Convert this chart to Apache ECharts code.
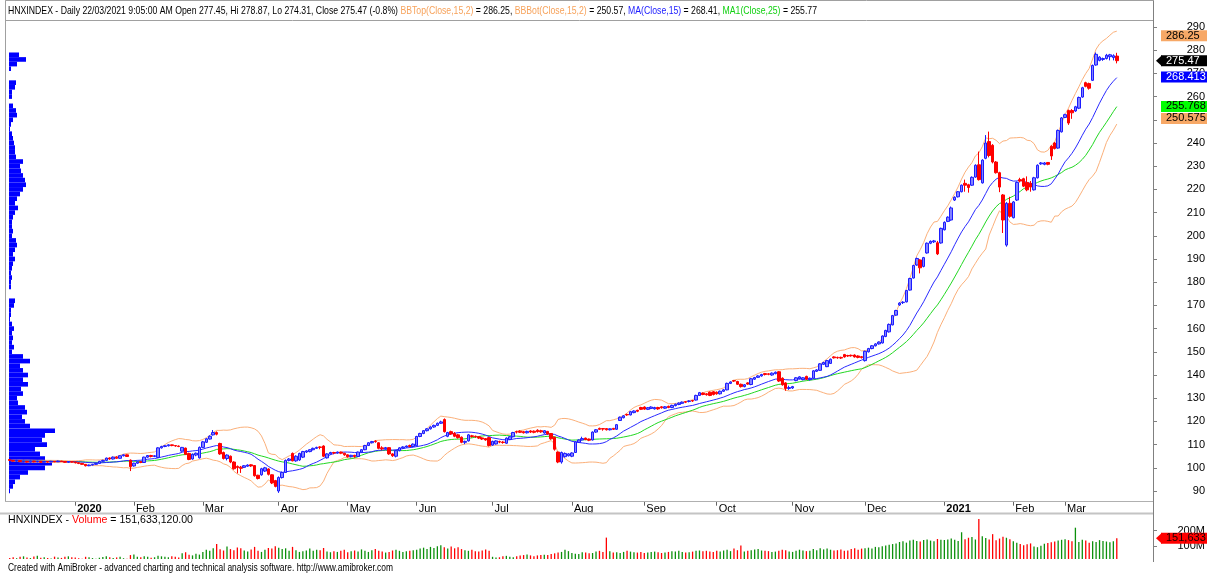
<!DOCTYPE html>
<html>
<head>
<meta charset="utf-8">
<title>HNXINDEX - Daily</title>
<script src="https://cdn.jsdelivr.net/npm/echarts@6/dist/echarts.min.js"></script>
<style>
  html, body { margin: 0; padding: 0; background: #fff; }
  #main { width: 1208px; height: 573px; }
</style>
</head>
<body>
<div id="main"></div>
<script>
// HNXINDEX daily bars. One row per month: Dec 2019 ... Mar 2021
var opens = [
  103.6,103.2,102.9,103.1,102.7,102.8,102.5,102.9,102.6,102.8,102.4,102.7,102.5,102.8,102.6,102.9,102.7,102.4,102.6,
  102.5,102.2,101.9,101.5,100.9,101.2,101.5,101.9,102.8,103.2,104.2,103.8,104.6,104.1,105.2,105.6,103.3,
  100.8,102.0,102.6,102.3,104.6,105.3,104.9,104.5,108.6,109.2,109.5,109.9,109.6,109.4,107.2,108.5,106.2,103.8,105.5,104.3,
  108.8,111.0,112.4,114.2,115.2,110.5,106.6,104.0,105.0,102.5,100.6,100.3,100.2,100.7,101.3,101.0,96.8,97.0,98.6,99.5,97.0,94.5,
  90.0,95.8,98.0,103.2,106.2,103.0,103.4,104.6,106.8,107.0,107.8,108.4,109.0,109.4,104.3,106.0,106.6,106.4,106.8,106.3,
  105.6,104.8,105.4,104.9,106.8,107.8,109.6,110.8,111.5,110.8,108.6,108.2,108.7,106.0,105.0,107.4,108.6,109.0,109.6,109.2,
  109.5,113.5,114.8,116.0,116.8,117.6,118.3,119.2,120.8,113.6,115.6,114.8,114.2,113.2,111.0,111.6,113.8,113.6,113.4,112.9,112.6,113.0,
  109.8,110.3,111.3,111.1,110.6,112.2,113.4,115.6,115.8,115.6,115.1,115.9,115.8,116.2,116.0,115.0,115.7,114.8,113.2,106.8,102.5,104.8,105.2,
  105.0,106.6,111.0,112.0,112.8,112.4,112.0,115.4,117.0,116.9,116.9,116.4,117.0,116.6,120.4,121.6,123.0,122.8,123.8,124.8,126.0,
  126.2,125.2,125.6,125.4,126.0,126.3,125.7,126.5,126.0,126.8,127.3,127.8,128.5,128.6,129.0,129.2,131.2,132.2,131.9,132.6,132.8,
  132.6,131.9,133.0,133.6,136.4,137.6,137.2,136.0,135.0,136.6,135.9,138.2,139.0,139.6,140.6,140.5,140.0,140.6,141.4,138.6,136.6,134.2,
  134.4,137.6,138.4,138.0,139.4,138.0,138.6,141.6,142.0,144.6,143.6,145.0,147.8,147.6,147.6,148.8,148.4,148.5,148.6,148.2,147.9,
  146.2,150.0,151.4,152.6,153.4,153.8,156.6,158.6,161.6,165.8,170.2,171.2,171.5,176.6,181.8,187.4,189.6,186.8,192.6,196.8,197.4,197.0,196.9,
  202.6,206.2,206.8,215.4,216.8,219.0,222.6,222.0,221.8,225.3,230.6,222.8,233.4,240.6,239.0,231.8,227.2,217.6,196.0,214.0,
  207.8,215.4,224.2,224.6,223.0,222.6,219.8,225.0,231.0,230.8,231.6,238.6,240.0,237.8,244.8,
  251.0,254.0,254.0,253.8,255.0,259.8,266.0,265.6,267.0,273.6,275.6,276.0,276.4,277.2,276.8,277.45
];
var closes = [
  103.2,102.9,103.1,102.7,102.8,102.5,102.9,102.6,102.8,102.4,102.7,102.5,102.8,102.6,102.9,102.7,102.4,102.6,102.5,
  102.2,101.9,101.5,100.9,101.2,101.5,101.9,102.8,103.2,104.2,103.8,104.6,104.1,105.2,105.6,104.9,100.5,
  102.0,102.6,102.3,104.6,105.3,104.9,105.2,108.6,109.2,109.5,109.9,109.6,109.4,109.2,108.8,105.8,103.6,105.8,106.3,108.8,
  111.2,112.5,113.6,115.2,114.5,106.0,104.0,105.5,102.5,99.6,100.1,99.8,100.9,101.2,100.8,96.6,95.4,99.6,100.0,97.2,93.5,92.0,
  95.8,98.0,103.2,103.8,103.0,105.0,106.2,107.0,107.3,107.8,108.4,108.8,108.8,105.0,106.0,106.6,106.4,106.8,106.3,105.6,
  104.8,105.4,104.9,106.8,107.8,109.6,110.8,111.3,111.3,108.4,108.2,108.7,106.0,105.2,107.4,108.6,109.0,109.4,109.2,110.2,
  113.5,114.8,116.0,116.8,117.6,118.3,119.2,119.8,115.6,115.2,114.6,113.6,113.0,111.0,111.4,114.2,113.5,113.4,112.8,112.4,112.0,109.6,
  111.4,111.6,111.1,110.9,112.8,113.4,115.2,115.4,115.3,115.1,115.7,115.4,115.3,115.6,115.5,116.0,114.6,112.5,108.0,102.5,106.6,106.2,106.0,
  106.4,111.2,112.0,112.6,112.2,111.9,115.4,116.4,116.6,116.7,116.4,116.8,116.6,118.6,121.8,122.4,122.8,124.2,124.5,124.4,125.2,
  125.3,125.9,126.2,126.0,125.4,125.9,126.3,126.0,126.9,127.4,127.9,128.3,128.3,128.8,128.8,131.2,132.4,131.6,131.5,131.2,131.6,
  131.9,133.0,133.6,136.4,137.0,137.4,136.0,135.0,135.8,136.1,138.4,138.9,139.6,140.2,140.2,140.3,140.8,141.2,137.4,135.8,134.2,134.6,
  135.0,138.8,139.2,138.8,138.2,138.6,141.8,142.2,144.8,145.4,146.2,146.8,147.4,147.4,147.3,147.8,148.2,148.3,147.8,147.6,147.5,
  150.2,151.4,152.6,153.4,154.2,156.8,159.2,161.8,165.6,167.8,171.0,171.4,176.4,181.6,187.2,190.2,186.2,190.6,196.8,197.6,197.8,192.2,203.2,
  205.8,208.0,212.0,216.6,219.0,221.8,221.8,220.8,225.2,230.4,224.2,232.6,240.0,234.6,231.8,227.2,221.0,206.8,214.0,208.4,
  214.6,223.0,223.6,221.4,219.8,221.0,225.0,230.4,231.4,231.4,230.8,234.4,237.6,245.4,250.8,
  252.2,248.6,253.0,255.6,259.6,263.8,264.4,263.6,273.4,278.2,277.0,276.4,277.8,278.0,277.6,275.47
];
var lows = [
  103.0,102.7,102.7,102.5,102.5,102.3,102.4,102.4,102.5,102.2,102.3,102.3,102.4,102.4,102.5,102.5,102.2,102.2,102.3,
  101.9,101.6,101.3,100.6,100.7,101.0,101.3,101.8,102.6,102.9,103.5,103.6,103.9,104.0,104.9,104.7,98.6,
  100.5,101.7,102.0,102.2,104.3,104.5,104.6,104.3,108.3,108.9,109.2,109.3,109.1,108.9,107.0,105.5,103.3,103.5,105.0,104.0,
  108.5,110.7,112.2,113.9,114.0,105.6,103.6,103.2,102.0,99.2,97.6,97.8,99.9,100.4,100.4,96.2,95.0,96.6,98.2,96.7,93.0,91.6,
  89.2,95.4,97.8,102.8,102.8,102.6,103.0,104.2,106.4,106.7,107.5,108.1,108.0,104.6,104.0,105.7,105.8,106.1,105.9,105.2,
  104.4,104.5,104.3,104.7,106.5,107.6,109.4,110.5,110.8,108.0,107.6,107.9,105.6,104.7,104.5,107.1,108.3,108.7,108.8,108.9,
  109.2,113.2,114.5,115.7,116.5,117.3,118.0,118.9,115.2,113.2,114.2,113.2,112.6,110.6,110.2,111.3,113.0,112.9,112.4,112.0,111.7,109.2,
  109.5,110.0,110.6,110.4,110.3,112.0,113.1,114.8,115.0,114.8,114.8,115.0,114.9,115.2,115.1,114.7,114.2,112.1,107.4,102.0,101.8,104.4,104.9,
  104.6,106.4,110.7,111.8,111.9,111.5,111.8,115.1,116.3,116.0,116.1,116.1,116.3,116.4,120.2,121.3,122.4,122.6,123.5,124.0,124.9,
  125.0,124.9,125.3,125.1,125.0,125.5,125.4,125.7,125.7,126.5,127.0,127.5,127.9,128.2,128.4,129.0,131.0,131.3,131.1,130.9,131.2,
  131.5,131.6,132.7,133.4,136.1,137.0,135.7,134.6,134.7,135.8,135.6,137.9,138.7,139.3,139.8,139.9,139.7,140.3,137.0,135.4,133.2,133.6,
  134.0,137.3,138.1,137.7,137.8,137.6,138.4,141.3,141.8,144.3,143.4,144.8,147.1,147.0,146.9,147.5,147.8,147.9,147.5,147.2,147.1,
  145.8,149.7,151.1,152.3,153.1,153.6,156.3,158.3,161.4,165.5,169.8,170.6,171.3,176.4,181.6,187.1,183.8,186.4,192.3,196.4,196.9,191.7,196.6,
  202.3,205.9,206.5,215.0,216.5,218.7,219.0,218.6,221.5,225.0,223.8,222.5,233.0,233.8,231.2,226.8,218.8,201.2,195.3,207.8,
  207.5,215.0,223.0,221.0,219.2,219.0,219.5,224.7,230.6,230.4,230.4,232.7,237.2,237.5,244.5,
  250.7,247.8,250.4,253.4,254.6,259.5,264.0,263.0,266.7,273.3,275.2,275.4,276.0,275.6,275.6,274.31
];
var highs = [
  103.8,103.4,103.3,103.2,103.0,102.9,103.1,103.0,103.0,102.9,102.9,102.8,103.0,102.9,103.1,103.0,102.8,102.8,102.7,
  102.7,102.4,102.0,101.6,101.4,101.7,102.1,103.0,103.5,104.4,104.5,104.9,105.0,105.4,105.8,105.8,103.6,
  102.2,102.8,102.9,104.8,105.5,105.6,105.4,108.9,109.5,109.8,110.1,110.0,109.8,109.6,109.0,108.7,106.5,106.2,106.6,109.2,
  111.6,112.8,114.0,116.3,115.7,110.8,107.0,105.8,105.3,102.8,101.0,100.8,101.2,101.5,101.6,101.2,97.0,100.0,100.4,99.8,97.2,94.8,
  96.3,98.4,103.6,104.2,106.6,105.4,106.5,107.3,107.6,108.0,108.7,109.1,109.3,109.7,106.3,106.9,106.9,107.0,107.0,106.5,
  105.8,105.6,105.6,107.0,108.0,109.9,111.0,111.6,111.9,111.0,109.3,109.0,108.9,106.3,107.7,108.9,109.3,109.6,110.0,110.5,
  113.8,115.1,116.3,117.1,117.9,118.6,119.5,120.3,121.3,115.5,116.0,115.4,114.6,113.5,111.7,114.6,114.2,113.9,113.6,113.2,112.8,113.3,
  111.7,111.9,111.7,111.5,113.1,113.7,115.5,116.0,116.2,115.9,116.0,116.2,116.1,116.6,116.4,116.3,115.9,115.0,113.4,107.0,107.0,106.6,106.3,
  106.7,111.5,112.3,113.4,113.0,112.6,115.7,116.7,117.3,117.1,117.1,117.0,117.2,118.9,122.1,122.7,123.3,124.5,124.8,125.0,126.3,
  126.5,126.2,126.5,126.3,126.3,126.6,126.6,126.8,127.2,127.7,128.2,128.6,128.8,129.1,129.3,131.5,132.7,132.5,132.2,132.9,133.1,
  132.9,133.3,133.9,136.7,137.3,137.9,137.5,136.3,136.1,136.9,138.7,139.2,139.9,140.5,140.9,140.8,141.1,141.5,141.7,139.0,136.9,135.4,
  135.3,139.1,139.5,139.1,139.7,138.9,142.1,142.5,145.1,145.7,146.5,147.1,148.1,147.9,147.9,149.1,148.7,148.8,148.9,148.5,148.2,
  150.5,151.7,152.9,153.7,154.5,157.1,159.5,162.2,165.9,168.1,171.4,171.8,176.7,181.9,187.5,190.6,189.9,190.9,197.1,198.0,198.2,197.8,203.5,
  206.2,208.4,212.6,217.0,219.3,222.1,224.2,222.4,225.6,230.8,236.3,233.0,243.4,244.9,239.5,232.2,227.6,218.0,214.5,216.8,
  215.0,223.4,225.0,225.0,225.6,223.6,225.4,230.8,231.8,231.8,231.8,239.0,240.4,245.8,251.2,
  252.6,254.4,254.6,256.0,260.0,264.2,266.4,266.0,273.8,279.0,277.4,276.8,278.4,278.4,278.2,278.87
];
// volume in millions of shares
var volumes = [
  27,31,25,34,37,29,26,36,40,28,31,26,23,35,30,27,34,37,31,
  29,25,22,34,31,26,22,28,32,37,31,27,30,35,25,22,45,
  49,34,31,37,34,28,31,40,37,34,31,38,34,30,56,63,47,43,54,48,
  65,79,72,88,115,82,74,99,83,76,93,88,74,67,81,97,72,65,79,90,86,101,
  92,83,88,72,97,76,65,70,74,86,72,79,76,90,67,63,70,65,72,79,
  63,70,74,67,81,72,65,76,83,72,67,61,65,74,79,72,65,70,72,76,
  79,86,92,83,97,90,101,108,95,86,99,88,95,83,76,72,79,70,67,74,81,72,
  34,29,31,37,40,34,31,38,43,45,49,43,38,43,45,47,45,52,56,61,65,79,70,
  58,54,52,63,61,56,58,67,72,65,156,70,61,63,58,65,72,67,63,61,65,
  58,61,65,67,63,58,61,65,70,67,72,65,61,63,67,72,74,70,72,67,65,
  72,67,74,79,70,86,76,106,67,72,76,81,83,74,72,70,65,67,72,79,76,67,
  65,72,79,74,70,72,83,76,88,81,86,79,74,76,81,72,74,83,88,79,86,
  88,92,86,97,95,101,106,110,115,119,128,133,124,137,142,135,131,140,144,137,133,147,142,
  140,144,151,142,135,190,146,155,160,144,275,165,153,144,178,139,150,161,155,146,
  133,124,115,108,113,119,99,95,104,117,122,126,131,137,142,
  146,140,133,219,128,142,137,124,133,128,140,135,131,126,133,151.633
];
// volume-at-price histogram on the left edge, bin centres 278, 276 ... 90 (2-point bins), relative bar length
var profileSizes = [
  10,17,8,2,0,0,7,6,3,3,0,4,7,8,4,2,1,3,4,5,
  6,6,7,14,11,12,14,16,17,14,11,8,6,9,6,4,3,3,4,3,
  7,8,6,4,6,4,3,2,3,2,2,0,0,6,5,2,2,1,3,5,
  3,4,3,5,3,14,21,11,14,19,14,19,12,14,8,9,16,18,13,16,
  21,46,36,33,38,26,31,36,43,36,19,11,6,4,1
];
// values printed in the right-hand price tags
var lastTags = [
  { value: 286.25, text: '286.25', bg: '#f7a866', fg: '#000' },
  { value: 275.47, text: '275.47', bg: '#000000', fg: '#fff', arrow: true },
  { value: 268.413, text: '268.413', bg: '#0000ff', fg: '#fff' },
  { value: 255.768, text: '255.768', bg: '#00ff00', fg: '#000' },
  { value: 250.575, text: '250.575', bg: '#f7a866', fg: '#000' }
];
var priceTicks = [90, 100, 110, 120, 130, 140, 150, 160, 170, 180, 190, 200, 210, 220, 230, 240, 250, 260, 270, 280, 290];
var volumeTicks = [100e6, 200e6];

// trading calendar of the exchange (weekdays minus closures)
var holidays = ['2020-01-01', '2020-01-23', '2020-01-24', '2020-01-27', '2020-01-28', '2020-01-29',
  '2020-04-02', '2020-04-30', '2020-05-01', '2020-09-02', '2021-01-01',
  '2021-02-10', '2021-02-11', '2021-02-12', '2021-02-15', '2021-02-16'];
function tradingDays(from, to) {
  var out = [];
  var d = new Date(from + 'T00:00:00Z');
  var end = new Date(to + 'T00:00:00Z');
  while (d <= end) {
    var s = d.toISOString().slice(0, 10);
    var wd = d.getUTCDay();
    if (wd !== 0 && wd !== 6 && holidays.indexOf(s) < 0) out.push(s);
    d.setUTCDate(d.getUTCDate() + 1);
  }
  return out;
}
var dates = tradingDays('2019-12-05', '2021-03-22');
if (dates.length !== closes.length || opens.length !== closes.length || lows.length !== closes.length ||
    highs.length !== closes.length || volumes.length !== closes.length) {
  console.error('length mismatch', dates.length, opens.length, closes.length, lows.length, highs.length, volumes.length);
}
// empty slots on the right, like the blank area AmiBroker leaves after the last bar
var cats = dates.slice();
for (var p = 0; p < 10; p++) cats.push('pad' + p);

var monthNames = ['Jan', 'Feb', 'Mar', 'Apr', 'May', 'Jun', 'Jul', 'Aug', 'Sep', 'Oct', 'Nov', 'Dec'];
function isMonthStart(i) {
  return i > 0 && i < dates.length && dates[i].slice(5, 7) !== dates[i - 1].slice(5, 7);
}

// indicators, same definitions as in the AFL header
function sma(arr, n) {
  return arr.map(function (v, i) {
    var s = arr.slice(Math.max(0, i - n + 1), i + 1);
    return s.reduce(function (a, b) { return a + b; }, 0) / s.length;
  });
}
function band(arr, n, k) {
  var m = sma(arr, n);
  return arr.map(function (v, i) {
    var s = arr.slice(Math.max(0, i - n + 1), i + 1);
    var dev = Math.sqrt(s.reduce(function (a, b) { return a + (b - m[i]) * (b - m[i]); }, 0) / s.length);
    return +(m[i] + k * dev).toFixed(2);
  });
}
var ma15 = sma(closes, 15).map(function (v) { return +v.toFixed(2); });
var ma25 = sma(closes, 25).map(function (v) { return +v.toFixed(2); });
var bbTop = band(closes, 15, 2);
var bbBot = band(closes, 15, -2);

var candles = closes.map(function (c, i) { return [opens[i], c, lows[i], highs[i]]; });
var volBars = volumes.map(function (v, i) {
  return { value: v * 1e6, itemStyle: { color: closes[i] > opens[i] ? '#0b900b' : '#ff0000' } };
});
var profileData = profileSizes.map(function (s, i) { return [s, 278 - 2 * i]; });

var FONT = '"Liberation Sans", Arial, sans-serif';

// AmiBroker writes its captions in a condensed face: squeeze Arial-metric text to the same width
function squeeze(text, size, target) {
  var ctx = document.createElement('canvas').getContext('2d');
  ctx.font = size + 'px ' + FONT;
  return target / ctx.measureText(text).width;
}

var chart = echarts.init(document.getElementById('main'), null, { renderer: 'canvas' });

var option = {
  animation: false,
  backgroundColor: '#ffffff',
  textStyle: { fontFamily: FONT },
  grid: [
    { left: 8, right: 55, top: 20, height: 481.7 },
    { left: 8, right: 55, top: 514, height: 45 },
    { left: 9, top: 20, height: 481.7, width: 100 }
  ],
  xAxis: [
    {
      type: 'category', gridIndex: 0, data: cats, boundaryGap: true,
      axisLine: { show: false },
      axisTick: { show: true, interval: function (i) { return isMonthStart(i); }, alignWithLabel: true, length: 4, lineStyle: { color: '#666' } },
      axisLabel: {
        interval: function (i) { return isMonthStart(i); },
        align: 'left', margin: 2, padding: [0, 0, 0, 2], fontSize: 11, color: '#000', fontFamily: FONT,
        formatter: function (v) {
          if (v.indexOf('pad') === 0) return '';
          var m = +v.slice(5, 7);
          return m === 1 ? '{y|' + v.slice(0, 4) + '}' : monthNames[m - 1];
        },
        rich: { y: { fontWeight: 'bold', fontSize: 11, fontFamily: FONT, color: '#000' } }
      },
      splitLine: { show: false }
    },
    {
      type: 'category', gridIndex: 1, data: cats, boundaryGap: true,
      axisLine: { show: false }, axisTick: { show: false }, axisLabel: { show: false }, splitLine: { show: false }
    },
    { type: 'value', gridIndex: 2, min: 0, max: 100, show: false }
  ],
  yAxis: [
    {
      type: 'value', gridIndex: 0, position: 'right', min: 85.4, max: 293, scale: true,
      axisLine: { show: false },
      axisTick: { show: true, customValues: priceTicks, length: 4, lineStyle: { color: '#808080' } },
      axisLabel: { customValues: priceTicks, align: 'right', margin: 52, fontSize: 11, color: '#000', fontFamily: FONT },
      splitLine: { show: false }
    },
    {
      type: 'value', gridIndex: 1, position: 'right', min: 20e6, max: 306e6,
      axisLine: { show: false },
      axisTick: { show: true, customValues: volumeTicks, length: 4, lineStyle: { color: '#808080' } },
      axisLabel: {
        customValues: volumeTicks, align: 'right', margin: 52, fontSize: 11, color: '#000', fontFamily: FONT,
        formatter: function (v) { return Math.round(v / 1e6) + 'M'; }
      },
      splitLine: { show: false }
    },
    { type: 'value', gridIndex: 2, min: 85.4, max: 293, show: false }
  ],
  series: [
    {
      name: 'Volume at price', type: 'custom', xAxisIndex: 2, yAxisIndex: 2, z: 1, silent: true,
      data: profileData,
      renderItem: function (params, api) {
        var p0 = api.coord([0, api.value(1) + 1]);
        var p1 = api.coord([api.value(0), api.value(1) - 1]);
        return {
          type: 'rect',
          shape: { x: p0[0], y: p0[1], width: p1[0] - p0[0], height: p1[1] - p0[1] },
          style: { fill: '#0000ff' }
        };
      }
    },
    {
      name: 'BBTop', type: 'line', xAxisIndex: 0, yAxisIndex: 0, data: bbTop, z: 2,
      showSymbol: false, lineStyle: { color: '#fbb07a', width: 1 }
    },
    {
      name: 'BBBot', type: 'line', xAxisIndex: 0, yAxisIndex: 0, data: bbBot, z: 2,
      showSymbol: false, lineStyle: { color: '#fbb07a', width: 1 }
    },
    {
      name: 'MA1', type: 'line', xAxisIndex: 0, yAxisIndex: 0, data: ma25, z: 2,
      showSymbol: false, lineStyle: { color: '#22d822', width: 1 }
    },
    {
      name: 'MA', type: 'line', xAxisIndex: 0, yAxisIndex: 0, data: ma15, z: 2,
      showSymbol: false, lineStyle: { color: '#2a2aff', width: 1 }
    },
    {
      name: 'HNXINDEX', type: 'candlestick', xAxisIndex: 0, yAxisIndex: 0, data: candles, z: 3,
      barWidth: 3,
      itemStyle: { color: '#8282ff', color0: '#ff0000', borderColor: '#1c1cff', borderColor0: '#ff0000', borderWidth: 1 }
    },
    {
      name: 'Volume', type: 'bar', xAxisIndex: 1, yAxisIndex: 1, data: volBars, barWidth: 1.3
    }
  ],
  graphic: []
};
chart.setOption(option);

// frames, captions and the coloured value tags on the right
function tag(y, text, bg, fg, arrow) {
  var out = [];
  if (arrow) out.push({ type: 'polygon', z: 100, shape: { points: [[1156, y], [1162, y - 5.5], [1162, y + 5.5]] }, style: { fill: bg } });
  out.push({ type: 'rect', z: 100, shape: { x: 1161, y: y - 5.5, width: 46, height: 11 }, style: { fill: bg } });
  out.push({ type: 'text', z: 101, x: 1166, y: y, style: { text: text, fill: fg, font: '11px ' + FONT, align: 'left', verticalAlign: 'middle' } });
  return out;
}

var last = closes.length - 1;
var headPlain = 'HNXINDEX - Daily 22/03/2021 9:05:00 AM Open ' + opens[last] + ', Hi ' + highs[last] +
  ', Lo ' + lows[last] + ', Close ' + closes[last] + ' (-0.8%) ';
var headText = headPlain + 'BBTop(Close,15,2) = 286.25, BBBot(Close,15,2) = 250.57, MA(Close,15) = 268.41, MA1(Close,25) = 255.77';
var volText = 'HNXINDEX - Volume = 151,633,120.00';
var footText = 'Created with AmiBroker - advanced charting and technical analysis software. http://www.amibroker.com';

function rich(color) { return { fontSize: 11, fontFamily: FONT, fill: color }; }

var g = [
  { type: 'rect', z: 50, shape: { x: 5.5, y: 0.5, width: 1148, height: 20 }, style: { fill: 'none', stroke: '#a0a0a0', lineWidth: 1 } },
  { type: 'line', z: 50, shape: { x1: 5.5, y1: 0.5, x2: 5.5, y2: 502 }, style: { stroke: '#a0a0a0', lineWidth: 1 } },
  { type: 'line', z: 50, shape: { x1: 5, y1: 501.5, x2: 1153.5, y2: 501.5 }, style: { stroke: '#b0b0b0', lineWidth: 1 } },
  { type: 'line', z: 50, shape: { x1: 0, y1: 513.5, x2: 1153.5, y2: 513.5 }, style: { stroke: '#c4c4c4', lineWidth: 2 } },
  { type: 'line', z: 50, shape: { x1: 1153.5, y1: 0.5, x2: 1153.5, y2: 562 }, style: { stroke: '#808080', lineWidth: 1 } },
  {
    type: 'text', z: 60, x: 8, y: 11, scaleX: squeeze(headText, 11, 809),
    style: {
      text: '{k|' + headPlain + '}{o|BBTop(Close,15,2)}{k| = 286.25, }{o|BBBot(Close,15,2)}{k| = 250.57, }' +
        '{b|MA(Close,15)}{k| = 268.41, }{g|MA1(Close,25)}{k| = 255.77}',
      verticalAlign: 'middle',
      rich: { k: rich('#000'), o: rich('#f7a25a'), b: rich('#2020ff'), g: rich('#10d010') }
    }
  },
  {
    type: 'text', z: 60, x: 8, y: 520, scaleX: squeeze(volText, 11, 185),
    style: {
      text: '{k|HNXINDEX - }{r|Volume}{k| = 151,633,120.00}',
      verticalAlign: 'middle',
      rich: { k: rich('#000'), r: rich('#ff0000') }
    }
  },
  {
    type: 'text', z: 60, x: 8, y: 568, scaleX: squeeze(footText, 10, 385),
    style: { text: footText, font: '10px ' + FONT, fill: '#000', verticalAlign: 'middle' }
  }
];
lastTags.forEach(function (t) {
  var y = chart.convertToPixel({ yAxisIndex: 0 }, t.value);
  g = g.concat(tag(y, t.text, t.bg, t.fg, t.arrow));
});
var vy = chart.convertToPixel({ yAxisIndex: 1 }, volumes[last] * 1e6);
g = g.concat(tag(vy, '151,633', '#ff0000', '#1a0000', true));
chart.setOption({ graphic: g });
</script>
</body>
</html>
